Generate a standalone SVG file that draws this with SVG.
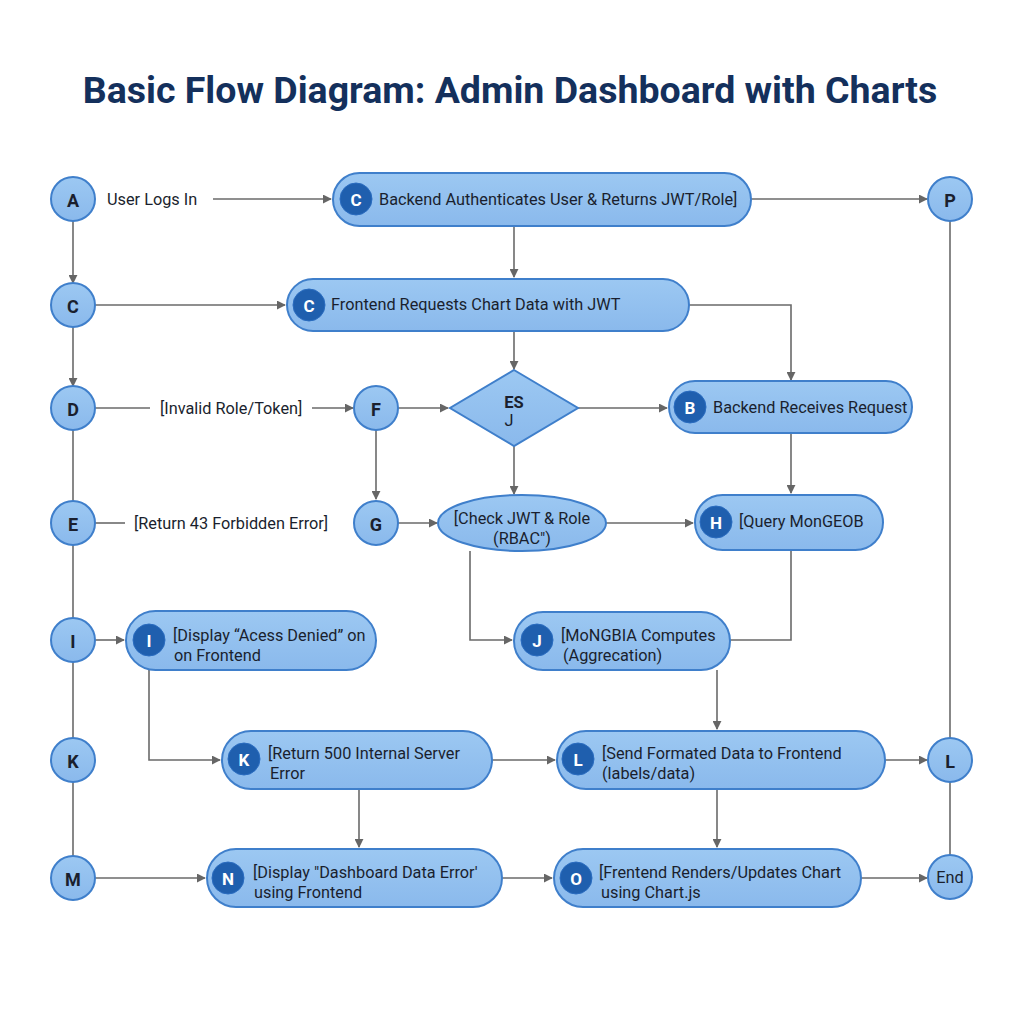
<svg xmlns="http://www.w3.org/2000/svg" width="1024" height="1024" viewBox="0 0 1024 1024">
<defs>
<linearGradient id="g" x1="0" y1="0" x2="0" y2="1">
<stop offset="0" stop-color="#9cc8f2"/>
<stop offset="1" stop-color="#8ab9ec"/>
</linearGradient>
<marker id="ar" viewBox="0 0 10 10" refX="9" refY="5" markerWidth="9" markerHeight="9" markerUnits="userSpaceOnUse" orient="auto">
<path d="M0,0 L10,5 L0,10 z" fill="#666"/>
</marker>
<style>
.nd{fill:url(#g);stroke:#3f7fcb;stroke-width:2}
.in{fill:#1f5fae;stroke:#2a6cc0;stroke-width:1}
.il{fill:#fff;font:bold 17px Roboto,"Liberation Sans",sans-serif;text-anchor:middle;dominant-baseline:central}
.cl{fill:#1a1f2e;font:bold 18px Roboto,"Liberation Sans",sans-serif;text-anchor:middle;dominant-baseline:central}
.t{fill:#1a1f2e;font:16.3px Roboto,"Liberation Sans",sans-serif;dominant-baseline:central}
.c{fill:none;stroke:#6a6a6a;stroke-width:1.6}
.a{marker-end:url(#ar)}
</style>
</defs>
<rect width="1024" height="1024" fill="#fff"/>
<text x="510" y="90" text-anchor="middle" dominant-baseline="central" style="fill:#14305c;font:bold 37.5px Roboto,'Liberation Sans',sans-serif">Basic Flow Diagram: Admin Dashboard with Charts</text>

<g id="connectors">
<path class="c a" d="M73,221 V283"/>
<path class="c a" d="M73,327 V386"/>
<path class="c" d="M73,430 V501"/>
<path class="c" d="M73,545 V618"/>
<path class="c" d="M73,662 V738"/>
<path class="c" d="M73,782 V856"/>
<path class="c a" d="M213,199 H331"/>
<path class="c a" d="M751,199 H927"/>
<path class="c" d="M950,221 V738"/>
<path class="c" d="M950,782 V855"/>
<path class="c a" d="M514,226 V277"/>
<path class="c a" d="M95,305 H285"/>
<path class="c a" d="M689,305 H791 V380"/>
<path class="c a" d="M514,331 V369"/>
<path class="c" d="M95,408 H150"/>
<path class="c a" d="M312,408 H353"/>
<path class="c a" d="M398,408 H448"/>
<path class="c a" d="M578,408 H667"/>
<path class="c a" d="M791,433 V493"/>
<path class="c a" d="M376,430 V499"/>
<path class="c" d="M95,523 H125"/>
<path class="c a" d="M398,523 H437"/>
<path class="c a" d="M514,446 V494"/>
<path class="c a" d="M606,523 H693"/>
<path class="c" d="M791,550 V640 H730"/>
<path class="c a" d="M470,551 V640 H512"/>
<path class="c a" d="M717,670 V729"/>
<path class="c a" d="M95,640 H124"/>
<path class="c a" d="M149,670 V760 H220"/>
<path class="c a" d="M492,760 H555"/>
<path class="c a" d="M359,789 V847"/>
<path class="c a" d="M885,760 H927"/>
<path class="c a" d="M717,789 V847"/>
<path class="c a" d="M95,878 H205"/>
<path class="c a" d="M502,878 H552"/>
<path class="c a" d="M861,878 H927"/>
</g>

<g id="nA"><circle class="nd" cx="73" cy="199" r="22"/><text class="cl" x="73" y="200">A</text></g>
<g id="lblUser"><text class="t" x="107" y="199">User Logs In</text></g>
<g id="nC1"><circle class="nd" cx="73" cy="305" r="22"/><text class="cl" x="73" y="306">C</text></g>
<g id="nD"><circle class="nd" cx="73" cy="408" r="22"/><text class="cl" x="73" y="409">D</text></g>
<g id="nE"><circle class="nd" cx="73" cy="523" r="22"/><text class="cl" x="73" y="524">E</text></g>
<g id="nI"><circle class="nd" cx="73" cy="640" r="22"/><text class="cl" x="73" y="641">I</text></g>
<g id="nK"><circle class="nd" cx="73" cy="760" r="22"/><text class="cl" x="73" y="761">K</text></g>
<g id="nM"><circle class="nd" cx="73" cy="878" r="22"/><text class="cl" x="73" y="879">M</text></g>
<g id="nP"><circle class="nd" cx="950" cy="199" r="22"/><text class="cl" x="950" y="200">P</text></g>
<g id="nL2"><circle class="nd" cx="950" cy="760" r="22"/><text class="cl" x="950" y="761">L</text></g>
<g id="nEnd"><circle class="nd" cx="950" cy="877" r="22"/><text class="t" x="950" y="877" text-anchor="middle">End</text></g>
<g id="nF"><circle class="nd" cx="376" cy="408" r="22"/><text class="cl" x="376" y="409">F</text></g>
<g id="nG"><circle class="nd" cx="376" cy="523" r="22"/><text class="cl" x="376" y="524">G</text></g>

<g id="lblInvalid"><text class="t" x="160" y="408">[Invalid Role/Token]</text></g>
<g id="lblForbidden"><text class="t" x="134" y="523">[Return 43 Forbidden Error]</text></g>

<g id="nBackendAuth">
<rect class="nd" x="333" y="173" width="418" height="53" rx="26.5"/>
<circle class="in" cx="356" cy="199" r="16"/><text class="il" x="356" y="200">C</text>
<text class="t" x="379" y="199">Backend Authenticates User &amp; Returns JWT/Role]</text>
</g>
<g id="nFrontendReq">
<rect class="nd" x="287" y="279" width="402" height="52" rx="26"/>
<circle class="in" cx="309" cy="305" r="16"/><text class="il" x="309" y="306">C</text>
<text class="t" x="331" y="304">Frontend Requests Chart Data with JWT</text>
</g>
<g id="nDiamond">
<polygon class="nd" points="514,370 578,408 514,446 450,408"/>
<text x="514" y="402" text-anchor="middle" dominant-baseline="central" style="fill:#1a1f2e;font:bold 16.5px Roboto,'Liberation Sans',sans-serif">ES</text>
<text class="t" x="509" y="420" text-anchor="middle">J</text>
</g>
<g id="nB">
<rect class="nd" x="669" y="381" width="243" height="52" rx="26"/>
<circle class="in" cx="690" cy="407" r="16"/><text class="il" x="690" y="408">B</text>
<text class="t" x="713" y="407">Backend Receives Request</text>
</g>
<g id="nCheck">
<ellipse class="nd" cx="522" cy="523" rx="84" ry="28"/>
<text class="t" x="522" y="518" text-anchor="middle">[Check JWT &amp; Role</text>
<text class="t" x="522" y="538" text-anchor="middle">(RBAC")</text>
</g>
<g id="nH">
<rect class="nd" x="695" y="495" width="188" height="55" rx="27.5"/>
<circle class="in" cx="716" cy="522" r="16"/><text class="il" x="716" y="523">H</text>
<text class="t" x="739" y="521">[Query MonGEOB</text>
</g>
<g id="nJ">
<rect class="nd" x="514" y="612" width="216" height="58" rx="29"/>
<circle class="in" cx="537" cy="640" r="16"/><text class="il" x="537" y="641">J</text>
<text class="t" x="561" y="635">[MoNGBIA Computes</text>
<text class="t" x="563" y="655">(Aggrecation)</text>
</g>
<g id="nIbox">
<rect class="nd" x="126" y="611" width="250" height="59" rx="29.5"/>
<circle class="in" cx="149" cy="640" r="16"/><text class="il" x="149" y="641">I</text>
<text class="t" x="173" y="635">[Display “Acess Denied” on</text>
<text class="t" x="174" y="655">on Frontend</text>
</g>
<g id="nKbox">
<rect class="nd" x="222" y="731" width="270" height="58" rx="29"/>
<circle class="in" cx="244" cy="759" r="16"/><text class="il" x="244" y="760">K</text>
<text class="t" x="268" y="753">[Return 500 Internal Server</text>
<text class="t" x="270" y="773">Error</text>
</g>
<g id="nLbox">
<rect class="nd" x="557" y="731" width="328" height="58" rx="29"/>
<circle class="in" cx="578" cy="759" r="16"/><text class="il" x="578" y="760">L</text>
<text class="t" x="602" y="753">[Send Formated Data to Frontend</text>
<text class="t" x="602" y="773">(labels/data)</text>
</g>
<g id="nN">
<rect class="nd" x="207" y="849" width="295" height="58" rx="29"/>
<circle class="in" cx="228" cy="878" r="16"/><text class="il" x="228" y="879">N</text>
<text class="t" x="253" y="872">[Display "Dashboard Data Error'</text>
<text class="t" x="254" y="892">using Frontend</text>
</g>
<g id="nO">
<rect class="nd" x="554" y="849" width="307" height="58" rx="29"/>
<circle class="in" cx="576" cy="878" r="16"/><text class="il" x="576" y="879">O</text>
<text class="t" x="599" y="872">[Frentend Renders/Updates Chart</text>
<text class="t" x="601" y="892">using Chart.js</text>
</g>
</svg>
